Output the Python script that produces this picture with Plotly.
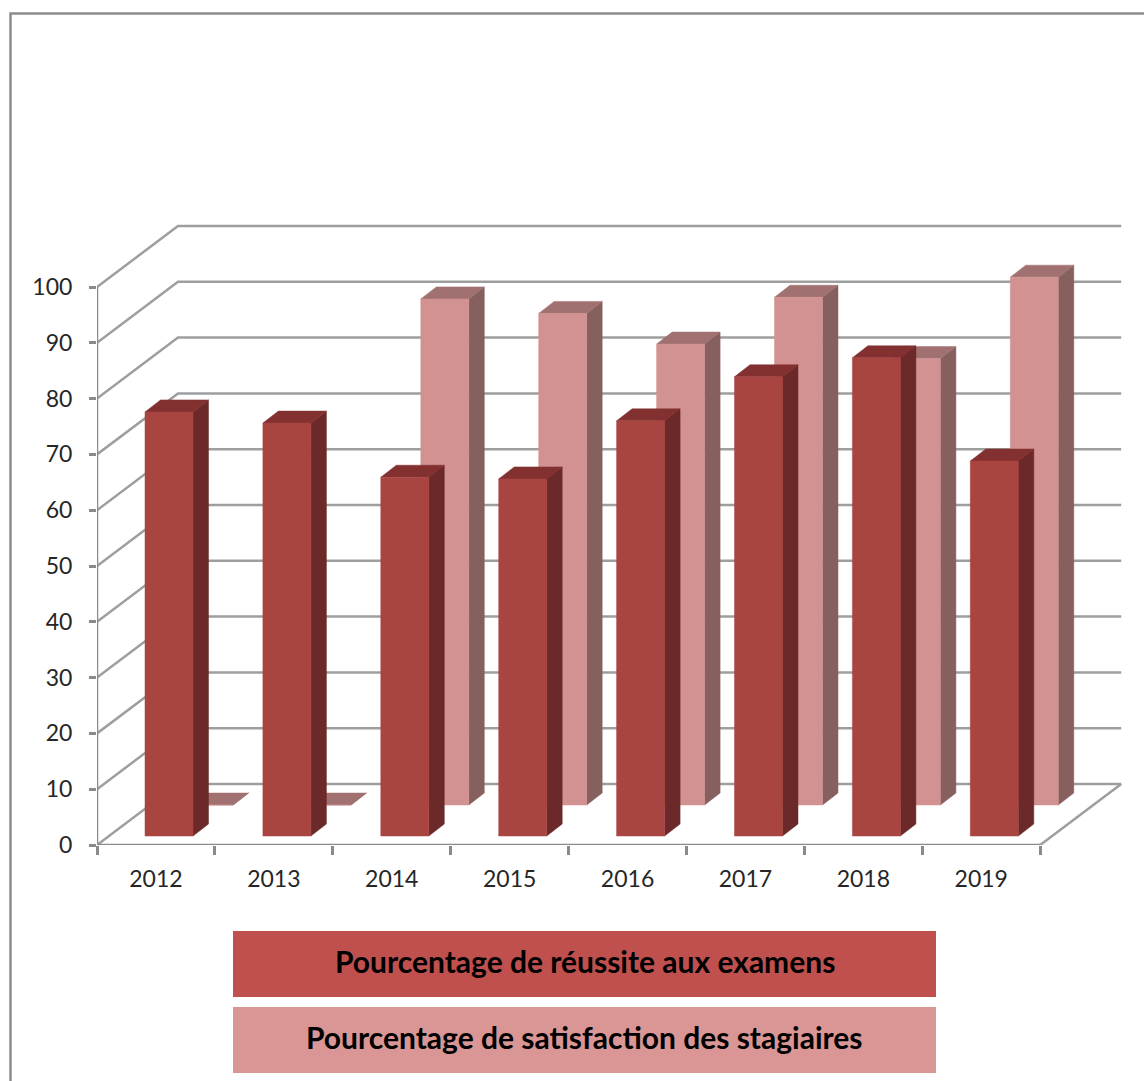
import plotly.graph_objects as go

# ---- data ----
years = ["2012", "2013", "2014", "2015", "2016", "2017", "2018", "2019"]
reussite = [76.0, 74.0, 64.3, 64.0, 74.4, 82.3, 85.7, 67.2]
satisfaction = [0, 0, 90.7, 88.1, 82.6, 91.0, 80.0, 94.6]
y_ticks = [0, 10, 20, 30, 40, 50, 60, 70, 80, 90, 100]
name_reussite = "Pourcentage de réussite aux examens"
name_satisfaction = "Pourcentage de satisfaction des stagiaires"

# ---- pseudo-3D geometry, in axis units ----
W, H = 1144, 1081
PX_X, PX_Y = 117.9, 5.58          # pixels per category / per percent
X0, Y0 = 97, 845                  # pixel position of the axes origin
XMAX, YMAX = 8.72, 112
WALL_DX, WALL_DY = 81 / PX_X, 61 / PX_Y
BAR_W = 48 / PX_X
BAR_DX, BAR_DY = 15.5 / PX_X, 12 / PX_Y

GRID = "#9e9e9e"
AXIS = "#8a8a8a"
TEXT = "#262626"


def close(xs, ys, px, py):
    xs += px + [px[0], None]
    ys += py + [py[0], None]


def add_series(fig, values, name, left, base, front, side, top):
    fx, fy, sx, sy, tx, ty = [], [], [], [], [], []
    for i, v in enumerate(values):
        l = i + left
        r = l + BAR_W
        t = base + v
        close(fx, fy, [l, r, r, l], [base, base, t, t])
        close(sx, sy, [r, r + BAR_DX, r + BAR_DX, r], [base, base + BAR_DY, t + BAR_DY, t])
        close(tx, ty, [l, r, r + BAR_DX, l + BAR_DX], [t, t, t + BAR_DY, t + BAR_DY])
    for xs, ys, c in ((sx, sy, side), (tx, ty, top), (fx, fy, front)):
        fig.add_trace(go.Scatter(x=xs, y=ys, mode="lines", fill="toself", fillcolor=c,
                                 line=dict(color=c, width=0.5), name=name,
                                 hoverinfo="skip", showlegend=False, cliponaxis=False))


fig = go.Figure()

# walls and floor
n = len(years)
gx, gy = [], []
for v in y_ticks:
    gx += [0, WALL_DX, n + WALL_DX, None]
    gy += [v, v + WALL_DY, v + WALL_DY, None]
gx += [n, n + WALL_DX, None]
gy += [0, WALL_DY, None]
fig.add_trace(go.Scatter(x=gx, y=gy, mode="lines", line=dict(color=GRID, width=2.5),
                         hoverinfo="skip", showlegend=False, cliponaxis=False))
fig.add_trace(go.Scatter(x=[0, 0, None, 0, n], y=[y_ticks[-1], 0, None, 0, 0], mode="lines",
                         line=dict(color=AXIS, width=2.5), hoverinfo="skip",
                         showlegend=False, cliponaxis=False))

add_series(fig, satisfaction, name_satisfaction, 88 / PX_X, 40 / PX_Y, "#d19291", "#86605e", "#a07170")
add_series(fig, reussite, name_reussite, 48 / PX_X, 9 / PX_Y, "#a94541", "#6b2a29", "#833130")


def legend_box(top, bottom, color):
    return dict(type="rect", xref="paper", yref="paper", x0=233 / W, x1=936 / W,
                y0=1 - bottom / H, y1=1 - top / H, fillcolor=color, line=dict(width=0), layer="below")


def legend_text(name, centre):
    return dict(text=f"<b>{name}</b>", xref="paper", yref="paper", x=584.5 / W, y=1 - centre / H,
                xanchor="center", yanchor="middle", showarrow=False,
                font=dict(size=30, color="black", family="Lato, sans-serif"))


fig.update_layout(
    width=W, height=H, margin=dict(l=0, r=0, t=0, b=0, pad=0, autoexpand=False),
    paper_bgcolor="white", plot_bgcolor="rgba(0,0,0,0)", showlegend=False,
    font=dict(family="Lato, sans-serif", color=TEXT, size=23),
    xaxis=dict(
        domain=[X0 / W, (X0 + XMAX * PX_X) / W], range=[0, XMAX],
        tickmode="array", tickvals=[i + 0.5 for i in range(n)], ticktext=years,
        ticks="", ticklabelstandoff=18, showgrid=False, zeroline=False, showline=False,
        automargin=False,
        minor=dict(tickmode="array", tickvals=list(range(n + 1)), ticks="outside",
                   ticklen=9, tickwidth=2.5, tickcolor=AXIS, showgrid=False),
    ),
    yaxis=dict(
        domain=[(H - Y0) / H, (H - Y0 + YMAX * PX_Y) / H], range=[0, YMAX],
        tickmode="array", tickvals=y_ticks, ticks="outside", ticklen=7, tickwidth=2.5,
        automargin=False,
        tickcolor=AXIS, ticklabelstandoff=12, showgrid=False, zeroline=False, showline=False,
    ),
    shapes=[
        dict(type="path", xref="paper", yref="paper",
             path=f"M {10.5/W} 0 L {10.5/W} {1-13.5/H} L 1 {1-13.5/H}",
             line=dict(color="#8c8c8c", width=2.5)),
        legend_box(931, 997, "#c0504d"),
        legend_box(1007, 1073, "#d99694"),
    ],
    annotations=[legend_text(name_reussite, 961), legend_text(name_satisfaction, 1037)],
)

fig.write_html("out.html", default_width=f"{W}px", default_height=f"{H}px",
               config={"displayModeBar": False},
               post_script="document.body.style.margin='0';")
